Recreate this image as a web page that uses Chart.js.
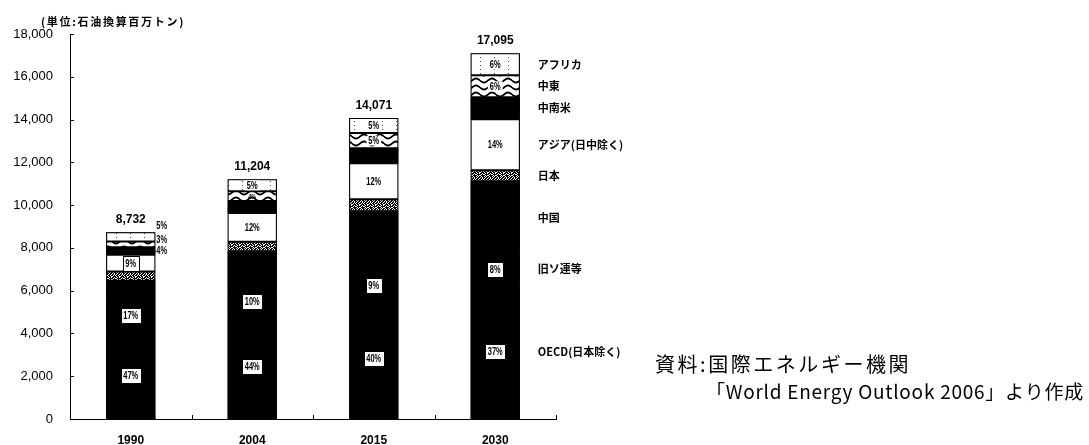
<!DOCTYPE html>
<html lang="ja">
<head>
<meta charset="utf-8">
<title>世界の一次エネルギー需要の見通し</title>
<script src="https://cdn.jsdelivr.net/npm/chart.js@4.4.1/dist/chart.umd.min.js"></script>
<style>
  html, body { margin: 0; padding: 0; background: #fff; }
  #wrap { width: 1089px; height: 445px; }
</style>
</head>
<body>
<div id="wrap"><canvas id="chart" width="1089" height="445"></canvas></div>
<script>
// 年と地域別の一次エネルギー需要(石油換算百万トン)
const years = ['1990', '2004', '2015', '2030'];
const totals = [8732, 11204, 14071, 17095];

// 各地域のシェア(%)
const shareOECD   = [47, 44, 40, 37];
const shareFSU    = [17, 10, 9, 8];
const shareChina  = [10, 16, 20, 20];
const shareJapan  = [5, 4, 4, 3];
const shareAsia   = [9, 12, 12, 14];
const shareLatAm  = [4, 5, 5, 6];
const shareMEast  = [3, 4, 5, 6];
const shareAfrica = [5, 5, 5, 6];

const regionNames = ['OECD(日本除く)', '旧ソ連等', '中国', '日本', 'アジア(日中除く)', '中南米', '中東', 'アフリカ'];

const yTicks = [0, 2000, 4000, 6000, 8000, 10000, 12000, 14000, 16000, 18000];

// ---- fills ----
function makePattern(w, h, draw) {
  const c = document.createElement('canvas');
  c.width = w; c.height = h;
  const g = c.getContext('2d');
  g.fillStyle = '#fff';
  g.fillRect(0, 0, w, h);
  draw(g);
  return document.getElementById('chart').getContext('2d').createPattern(c, 'repeat');
}
const speckleRows = [
  '10110101', '01011011', '11010110', '10101101',
  '01110110', '11011010', '10100111', '01111010'
];
const speckle = makePattern(8, 8, g => {
  g.fillStyle = '#000';
  speckleRows.forEach((row, y) => {
    for (let x = 0; x < row.length; x++) if (row[x] === '1') g.fillRect(x, y, 1, 1);
  });
});
const waves = makePattern(16, 7, g => {
  g.strokeStyle = '#000';
  g.lineWidth = 1.8;
  g.beginPath();
  for (let x = 0; x <= 16; x++) {
    const y = 3.5 + 2 * Math.sin(2 * Math.PI * x / 16);
    x === 0 ? g.moveTo(x, y) : g.lineTo(x, y);
  }
  g.stroke();
});
const dots = makePattern(14, 4, g => {
  g.fillStyle = '#444';
  g.fillRect(4, 1, 1, 1);
});

// ラベル表示: 'box' = 枠付き, 'plain' = 白地の文字, 'side' = 棒の右側
const series = [
  { name: regionNames[0], share: shareOECD,   fill: '#000', labels: ['box', 'box', 'box', 'box'] },
  { name: regionNames[1], share: shareFSU,    fill: '#000', labels: ['box', 'box', 'box', 'box'] },
  { name: regionNames[2], share: shareChina,  fill: '#000', labels: [null, null, null, null] },
  { name: regionNames[3], share: shareJapan,  fill: speckle, labels: [null, null, null, null] },
  { name: regionNames[4], share: shareAsia,   fill: '#fff', labels: ['box', 'plain', 'plain', 'plain'] },
  { name: regionNames[5], share: shareLatAm,  fill: '#000', labels: ['side', null, null, null] },
  { name: regionNames[6], share: shareMEast,  fill: waves,  labels: ['side', 'small', 'plain', 'plain'] },
  { name: regionNames[7], share: shareAfrica, fill: dots,   labels: ['side', 'plain', 'plain', 'plain'] }
];
// 1990年の右側ラベルの縦方向のずらし
const sideShift = { 5: 0, 6: -4, 7: -11 };

const datasets = series.map(s => {
  const solid = s.fill === '#000';
  return {
    label: s.name,
    data: totals.map((t, i) => t * s.share[i] / 100),
    backgroundColor: s.fill,
    borderColor: '#000',
    borderWidth: solid ? 0 : 1,
    inflateAmount: 0,
    borderSkipped: false,
    barPercentage: 0.405,
    categoryPercentage: 1.0,
    stack: 'total'
  };
});

const fmt = v => v.toLocaleString('en-US');
const JP = '"Noto Sans CJK JP", "Noto Sans", sans-serif';
const LS = '"Liberation Sans", Arial, sans-serif';

function narrowText(ctx, text, x, y, sx) {
  ctx.save();
  ctx.translate(x, y);
  ctx.scale(sx, 1);
  ctx.fillText(text, 0, 0);
  ctx.restore();
}

// 幅をそろえて文字を描く
function spacedText(ctx, text, x, y, width) {
  ctx.letterSpacing = '0px';
  const w0 = ctx.measureText(text).width;
  const n = [...text].length;
  ctx.letterSpacing = ((width - w0) / n).toFixed(2) + 'px';
  ctx.fillText(text, x, y);
  ctx.letterSpacing = '0px';
}

const decorations = {
  id: 'decorations',
  // 黒い区分どうしの継ぎ目を消すための下地
  beforeDatasetsDraw(chart) {
    const ctx = chart.ctx;
    const topMeta = chart.getDatasetMeta(series.length - 1);
    const baseMeta = chart.getDatasetMeta(0);
    ctx.save();
    ctx.fillStyle = '#000';
    topMeta.data.forEach((bar, i) => {
      const base = baseMeta.data[i].base;
      ctx.fillRect(bar.x - bar.width / 2, bar.y, bar.width, base - bar.y);
    });
    ctx.restore();
  },
  afterDatasetsDraw(chart) {
    const ctx = chart.ctx;
    const area = chart.chartArea;
    const ys = chart.scales.y;
    const xs = chart.scales.x;
    ctx.save();

    // 目盛り(内向き)
    ctx.strokeStyle = '#000';
    ctx.lineWidth = 1;
    yTicks.forEach(v => {
      const y = Math.round(ys.getPixelForValue(v)) + 0.5;
      ctx.beginPath();
      ctx.moveTo(area.left, y);
      ctx.lineTo(area.left + 4, y);
      ctx.stroke();
    });
    for (let i = 0; i < years.length; i++) {
      const xb = i < years.length - 1
        ? (xs.getPixelForValue(i) + xs.getPixelForValue(i + 1)) / 2
        : area.right;
      const x = Math.round(xb) + 0.5;
      ctx.beginPath();
      ctx.moveTo(x, area.bottom);
      ctx.lineTo(x, area.bottom - 4);
      ctx.stroke();
    }

    // 合計値
    ctx.fillStyle = '#000';
    ctx.font = 'bold 12px ' + LS;
    ctx.textAlign = 'center';
    ctx.textBaseline = 'middle';
    const topMeta = chart.getDatasetMeta(series.length - 1);
    totals.forEach((t, i) => {
      const bar = topMeta.data[i];
      ctx.fillText(fmt(t), bar.x, bar.y - 12.5);
    });

    // シェアのラベル
    const SX = 0.68;
    series.forEach((s, d) => {
      const meta = chart.getDatasetMeta(d);
      meta.data.forEach((bar, i) => {
        const kind = s.labels[i];
        if (!kind) return;
        const txt = s.share[i] + '%';
        const cy = (bar.y + bar.base) / 2;
        const half = bar.width / 2;
        ctx.font = 'bold 11px ' + LS;
        ctx.textBaseline = 'middle';
        const tw = ctx.measureText(txt).width * SX;
        if (kind === 'side') {
          ctx.textAlign = 'left';
          ctx.fillStyle = '#000';
          narrowText(ctx, txt, bar.x + half + 1, cy + sideShift[d], SX);
          return;
        }
        if (kind === 'box') {
          const w = Math.round(tw + 5), h = 15;
          const bx = Math.round(bar.x - w / 2) + 0.5, by = Math.round(cy - h / 2) + 0.5;
          ctx.fillStyle = '#fff';
          ctx.fillRect(bx, by, w, h);
          ctx.strokeStyle = '#000';
          ctx.lineWidth = 1;
          ctx.strokeRect(bx, by, w, h);
        } else if (kind === 'plain') {
          ctx.fillStyle = '#fff';
          ctx.fillRect(bar.x - tw / 2 - 2, cy - 5, tw + 4, 10);
        } else if (kind === 'small') {
          ctx.font = 'bold 8px ' + LS;
        }
        ctx.fillStyle = '#000';
        ctx.textAlign = 'left';
        const tw2 = ctx.measureText(txt).width * SX;
        narrowText(ctx, txt, bar.x - tw2 / 2, cy + 0.5, SX);
      });
    });

    // 2030年の棒の右に地域名
    ctx.font = 'bold 11px ' + JP;
    ctx.textAlign = 'left';
    ctx.textBaseline = 'middle';
    ctx.fillStyle = '#000';
    series.forEach((s, d) => {
      const meta = chart.getDatasetMeta(d);
      const bar = meta.data[years.length - 1];
      const cy = (bar.y + bar.base) / 2;
      ctx.fillText(s.name, bar.x + bar.width / 2 + 18, cy);
    });

    // 単位
    ctx.font = 'bold 11px ' + JP;
    spacedText(ctx, '(単位:石油換算百万トン)', 41, 22, 144);

    // 資料
    ctx.font = '20px ' + JP;
    spacedText(ctx, '資料:国際エネルギー機関', 655, 364, 256);
    ctx.font = '19px ' + JP;
    spacedText(ctx, '「World Energy Outlook 2006」より作成', 706, 392, 378);
    ctx.restore();
  }
};

new Chart(document.getElementById('chart'), {
  type: 'bar',
  data: { labels: years, datasets },
  options: {
    responsive: false,
    animation: false,
    layout: { padding: { top: 34, right: 533, left: 0, bottom: 0 } },
    plugins: { legend: { display: false }, tooltip: { enabled: false } },
    scales: {
      x: {
        stacked: true,
        grid: { display: false, drawTicks: false },
        border: { display: true, color: '#000', width: 1 },
        ticks: { color: '#000', font: { family: LS, size: 12, weight: 'bold' }, padding: 14 },
        afterFit(scale) { scale.height = 26; }
      },
      y: {
        stacked: true,
        min: 0,
        max: 18000,
        grid: { display: false, drawTicks: false },
        border: { display: true, color: '#000', width: 1 },
        ticks: {
          stepSize: 2000,
          color: '#000',
          font: { family: LS, size: 13 },
          padding: 17,
          callback: v => fmt(v)
        },
        afterFit(scale) { scale.width = 70; }
      }
    }
  },
  plugins: [decorations]
});
</script>
</body>
</html>
